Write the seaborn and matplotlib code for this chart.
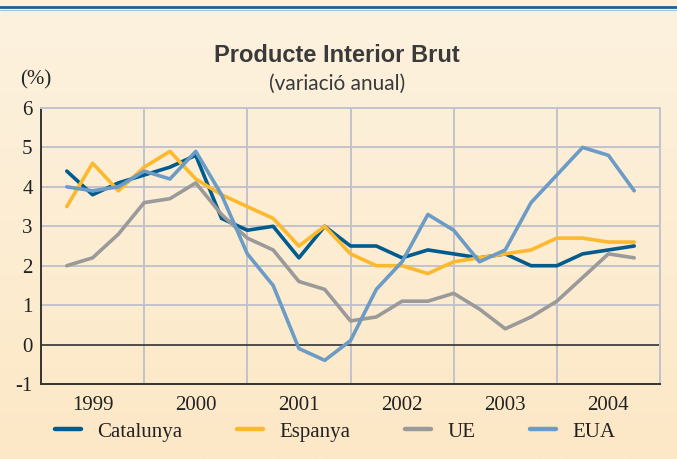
import matplotlib
matplotlib.use("Agg")
import matplotlib.pyplot as plt
import numpy as np
import pandas as pd
import seaborn as sns

# quarterly GDP growth, 1999Q1 .. 2004Q3
quarters = list(range(1, 24))
catalunya = [4.4, 3.8, 4.1, 4.3, 4.5, 4.8, 3.2, 2.9, 3.0, 2.2, 3.0, 2.5,
             2.5, 2.2, 2.4, 2.3, 2.2, 2.3, 2.0, 2.0, 2.3, 2.4, 2.5]
espanya = [3.5, 4.6, 3.9, 4.5, 4.9, 4.2, 3.8, 3.5, 3.2, 2.5, 3.0, 2.3,
           2.0, 2.0, 1.8, 2.1, 2.2, 2.3, 2.4, 2.7, 2.7, 2.6, 2.6]
ue = [2.0, 2.2, 2.8, 3.6, 3.7, 4.1, 3.3, 2.7, 2.4, 1.6, 1.4, 0.6,
      0.7, 1.1, 1.1, 1.3, 0.9, 0.4, 0.7, 1.1, 1.7, 2.3, 2.2]
eua = [4.0, 3.9, 4.0, 4.4, 4.2, 4.9, 3.8, 2.3, 1.5, -0.1, -0.4, 0.1,
       1.4, 2.1, 3.3, 2.9, 2.1, 2.4, 3.6, 4.3, 5.0, 4.8, 3.9]
years = ["1999", "2000", "2001", "2002", "2003", "2004"]
series = ["Catalunya", "Espanya", "UE", "EUA"]
colors = ["#005b8e", "#fdb92e", "#9a9a9a", "#6c9bc6"]

df = pd.DataFrame({"q": quarters * 4,
                   "val": catalunya + espanya + ue + eua,
                   "serie": sum([[s] * len(quarters) for s in series], [])})

sns.set_style("white")
plt.rcParams["font.family"] = ["Liberation Serif", "DejaVu Serif"]

fig = plt.figure(figsize=(6.77, 4.59), dpi=100)

# cream background with a soft vertical gradient
bg = fig.add_axes([0, 0, 1, 1], zorder=-5)
grad = np.linspace(0, 1, 256).reshape(-1, 1)
cmap = matplotlib.colors.LinearSegmentedColormap.from_list("bg", ["#fdf2df", "#fce8c6"])
bg.imshow(grad, aspect="auto", cmap=cmap, extent=[0, 1, 0, 1])
bg.axis("off")
# dark blue rule at top
fig.add_artist(plt.Line2D([0, 1], [1 - 7 / 459, 1 - 7 / 459], color="#1f5f97", lw=2))
fig.add_artist(plt.Line2D([0, 1], [1 - 9.5 / 459, 1 - 9.5 / 459], color="#a9c4de", lw=0.8))

ax = fig.add_axes([41 / 677, 1 - 384 / 459, 619 / 677, 276 / 459])
ax.set_facecolor("none")

sns.lineplot(data=df, x="q", y="val", hue="serie", hue_order=series,
             palette=colors, linewidth=2.6, ax=ax, legend=False, zorder=3)

ax.set_xlim(0, 24)
ax.set_ylim(-1, 6)
ax.set_xticks([2, 6, 10, 14, 18, 22])
ax.set_xticklabels(years, fontsize=15, color="#222222")
ax.set_yticks(range(-1, 7))
ax.set_yticklabels([str(v) for v in range(-1, 7)], fontsize=15, color="#222222")
ax.set_yticks(np.arange(-1, 6.01, 0.2), minor=True)
ax.tick_params(axis="y", which="both", direction="in", length=3, width=0.8, color="#333333", pad=6)
ax.tick_params(axis="x", length=0, pad=9)
ax.set_xlabel("")
ax.set_ylabel("")

for xv in [4, 8, 12, 16, 20]:
    ax.axvline(xv, color="#c2c2cc", lw=1.4, zorder=1)
for yv in [1, 2, 3, 4, 5]:
    ax.axhline(yv, color="#c2c2cc", lw=1.4, zorder=1)
ax.axhline(0, color="#333333", lw=1.2, zorder=2)

for side in ["top", "right"]:
    ax.spines[side].set_color("#c2c2cc")
    ax.spines[side].set_linewidth(1.4)
for side in ["left", "bottom"]:
    ax.spines[side].set_color("#333333")
    ax.spines[side].set_linewidth(1.4)

fig.text(337 / 677, 1 - 55 / 459, "Producte Interior Brut", ha="center", va="center",
         fontsize=17, fontweight="bold", color="#3a3a3a",
         family=["Liberation Sans Narrow", "Liberation Sans", "DejaVu Sans"])
fig.text(337 / 677, 1 - 84 / 459, "(variació anual)", ha="center", va="center",
         fontsize=15, color="#3a3a3a", family=["Lato", "DejaVu Sans"])
fig.text(36 / 677, 1 - 80 / 459, "(%)", ha="center", va="center",
         fontsize=15, color="#222222")

handles = [plt.Line2D([], [], color=c, lw=3.2) for c in colors]
fig.legend(handles, series, loc="center", bbox_to_anchor=(0.495, 1 - 432 / 459),
           ncol=4, frameon=False, fontsize=15, handlelength=1.25,
           columnspacing=2.6, handletextpad=0.8, labelcolor="#222222")

fig.savefig("out.png", dpi=100)
